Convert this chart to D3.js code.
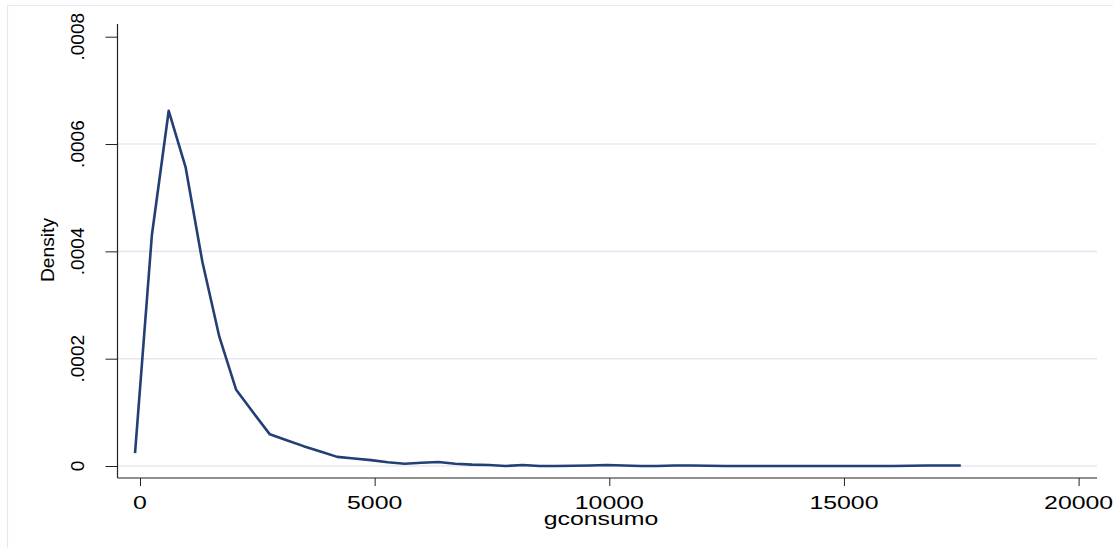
<!DOCTYPE html>
<html>
<head>
<meta charset="utf-8">
<script src="https://cdn.jsdelivr.net/npm/d3@7"></script>
<style>
  html, body { margin: 0; padding: 0; background: #fff; }
  svg { display: block; font-family: "Liberation Sans", Arial, sans-serif; }
</style>
</head>
<body>
<svg width="1113" height="548"></svg>
<script>
// evaluation points of the density (gconsumo)
const gconsumo = [-106, 253, 612, 971, 1330, 1690, 2049, 2408, 2767, 3126,
  3485, 3844, 4203, 4562, 4921, 5281, 5640, 5999, 6358, 6717,
  7076, 7435, 7794, 8153, 8512, 8872, 9231, 9590, 9949, 10308,
  10667, 11026, 11385, 11744, 12103, 12463, 12822, 13181, 13540, 13899,
  14258, 14617, 14976, 15335, 15694, 16054, 16413, 16772, 17131, 17490];

const density = [0.000024, 0.000430, 0.000662, 0.000557, 0.000380, 0.000241, 0.000142, 0.000100, 0.000059, 0.000048,
  0.000037, 0.000027, 0.000017, 0.000014, 0.000011, 0.000007, 0.0000043, 0.000006, 0.0000075, 0.0000043,
  0.0000025, 0.000002, 0.0, 0.000002, 0.0, 0.0, 0.0000005, 0.000001, 0.000002, 0.000001,
  0.0, 0.0, 0.000001, 0.000001, 0.0000005, 0.0, 0.0, 0.0, 0.0, 0.0,
  0.0, 0.0, 0.0, 0.0, 0.0, 0.0, 0.0000005, 0.000001, 0.000001, 0.000001];

const xTicks = [0, 5000, 10000, 15000, 20000];
const yTicks = [0, 0.0002, 0.0004, 0.0006, 0.0008];
const yTickLabels = ["0", ".0002", ".0004", ".0006", ".0008"];
const gridTicks = [0, 0.0002, 0.0004, 0.0006];

const svg = d3.select("svg");

const x = d3.scaleLinear().domain([0, 20000]).range([140, 1078.6]);
const y = d3.scaleLinear().domain([0, 0.0008]).range([466, 36.7]);

const plotLeft = 117.5, plotRight = 1097, plotTop = 24, plotBottom = 478;
const stretch = 1.38;

// outer frame
svg.append("path")
  .attr("d", "M7.5,548 L7.5,5.5 L1113,5.5")
  .attr("fill", "none")
  .attr("stroke", "#e6e9f2")
  .attr("stroke-width", 1.2);

// grid lines
svg.selectAll("line.grid")
  .data(gridTicks)
  .enter()
  .append("line")
  .attr("class", "grid")
  .attr("x1", plotLeft)
  .attr("x2", plotRight)
  .attr("y1", d => y(d))
  .attr("y2", d => y(d))
  .attr("stroke", "#e3e8f2")
  .attr("stroke-width", 1.6);

// axes
const yAxis = d3.axisLeft(y).tickValues(yTicks).tickSize(12).tickFormat("");
svg.append("g")
  .attr("transform", `translate(${plotLeft},0)`)
  .call(yAxis)
  .call(g => g.select(".domain").remove())
  .call(g => g.selectAll(".tick line").attr("stroke", "#222"));

const xAxis = d3.axisBottom(x).tickValues(xTicks).tickSize(8).tickFormat("");
svg.append("g")
  .attr("transform", `translate(0,${plotBottom})`)
  .call(xAxis)
  .call(g => g.select(".domain").remove())
  .call(g => g.selectAll(".tick line").attr("stroke", "#222"));

svg.append("line")
  .attr("x1", plotLeft).attr("x2", plotLeft)
  .attr("y1", plotTop).attr("y2", plotBottom)
  .attr("stroke", "#222").attr("stroke-width", 1.2);
svg.append("line")
  .attr("x1", plotLeft).attr("x2", plotRight)
  .attr("y1", plotBottom).attr("y2", plotBottom)
  .attr("stroke", "#222").attr("stroke-width", 1.2);

// tick labels
svg.selectAll("text.ylab")
  .data(yTicks)
  .enter()
  .append("text")
  .attr("class", "ylab")
  .attr("transform", d => `translate(83.5,${y(d)}) rotate(-90) scale(1.06,1)`)
  .attr("text-anchor", "middle")
  .attr("font-size", "18px")
  .attr("fill", "#000")
  .text((d, i) => yTickLabels[i]);

svg.selectAll("text.xlab")
  .data(xTicks)
  .enter()
  .append("text")
  .attr("class", "xlab")
  .attr("transform", d => `translate(${x(d)},508.5) scale(${stretch},1)`)
  .attr("text-anchor", "middle")
  .attr("font-size", "18px")
  .attr("fill", "#000")
  .text(d => d);

// axis titles
svg.append("text")
  .attr("transform", "translate(53.5,250) rotate(-90) scale(1.04,1)")
  .attr("text-anchor", "middle")
  .attr("font-size", "18.5px")
  .attr("fill", "#000")
  .text("Density");

svg.append("text")
  .attr("transform", `translate(601,524.5) scale(${stretch},1)`)
  .attr("text-anchor", "middle")
  .attr("font-size", "18px")
  .attr("fill", "#000")
  .text("gconsumo");

// density line
const line = d3.line()
  .x((d, i) => x(gconsumo[i]))
  .y(d => y(d));

svg.append("path")
  .datum(density)
  .attr("d", line)
  .attr("fill", "none")
  .attr("stroke", "#233f73")
  .attr("stroke-width", 2.6)
  .attr("stroke-linejoin", "round");
</script>
</body>
</html>
